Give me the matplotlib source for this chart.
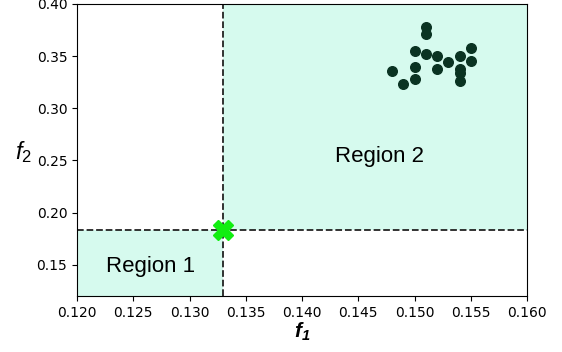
import matplotlib
matplotlib.use("Agg")
import matplotlib.pyplot as plt

plt.rcParams['mathtext.fontset'] = 'custom'
plt.rcParams['mathtext.it'] = 'Liberation Sans:italic'
plt.rcParams['mathtext.rm'] = 'Liberation Sans'
plt.rcParams['mathtext.bf'] = 'Liberation Sans:bold:italic'

f1 = [0.151, 0.151, 0.150, 0.151, 0.152, 0.154, 0.155, 0.155, 0.153, 0.152,
      0.154, 0.154, 0.154, 0.150, 0.150, 0.148, 0.149]
f2 = [0.3777, 0.3709, 0.3549, 0.3523, 0.3501, 0.3501, 0.3581, 0.3451, 0.3441,
      0.3380, 0.3377, 0.3341, 0.3262, 0.3399, 0.3281, 0.3360, 0.3230]
ref_point = (0.133, 0.183)
xlim = (0.12, 0.16)
ylim = (0.12, 0.40)
xticks = [0.120, 0.125, 0.130, 0.135, 0.140, 0.145, 0.150, 0.155, 0.160]
yticks = [0.15, 0.20, 0.25, 0.30, 0.35, 0.40]

fig = plt.figure(figsize=(5.62, 3.52), dpi=100)
ax = fig.add_axes([0.137, 0.159, 0.801, 0.830])
fill = '#d6faee'
ax.fill_between([xlim[0], ref_point[0]], ylim[0], ref_point[1], color=fill, lw=0, zorder=0)
ax.fill_between([ref_point[0], xlim[1]], ref_point[1], ylim[1], color=fill, lw=0, zorder=0)
ax.axvline(ref_point[0], color='#222222', ls='--', lw=1.3, zorder=1)
ax.axhline(ref_point[1], color='#222222', ls='--', lw=1.3, zorder=1)
ax.scatter(f1, f2, s=48, color='#0a3322', zorder=3)
ax.plot([ref_point[0]], [ref_point[1]], marker='X', markersize=15, color='#11ee11', zorder=4, lw=0)
ax.text(0.1265, 0.148, 'Region 1', fontsize=16, family='Liberation Sans', ha='center', va='center')
ax.text(0.1469, 0.254, 'Region 2', fontsize=16, family='Liberation Sans', ha='center', va='center')
ax.set_xlim(*xlim)
ax.set_ylim(*ylim)
ax.set_xticks(xticks)
ax.set_xticklabels([f'{t:.3f}' for t in xticks])
ax.set_yticks(yticks)
ax.set_yticklabels([f'{t:.2f}' for t in yticks])
ax.set_xlabel(r'$\mathbf{f_1}$', fontsize=15, labelpad=1)
ax.set_ylabel(r'$f_{\mathrm{2}}$', fontsize=17, rotation=0)
ax.yaxis.set_label_coords(-0.118, 0.45)
fig.savefig('out.png', dpi=100)
